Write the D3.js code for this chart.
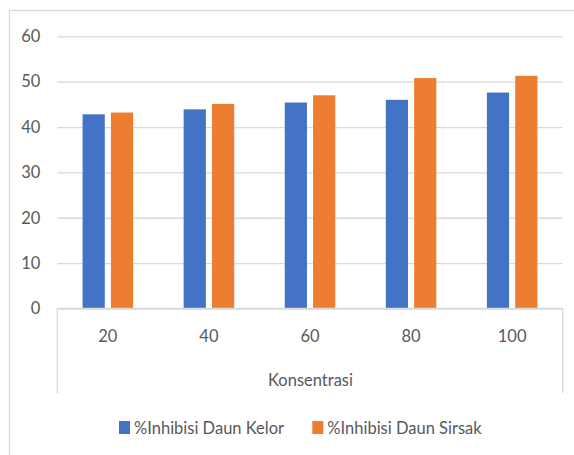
<!DOCTYPE html>
<html>
<head>
<meta charset="utf-8">
<script src="https://cdn.jsdelivr.net/npm/d3@7"></script>
<style>
  html, body { margin: 0; padding: 0; background: #fff; }
  svg { display: block; }
  text { font-family: Lato, "Open Sans", sans-serif; fill: #595959; }
</style>
</head>
<body>
<svg id="chart" width="574" height="455"></svg>
<script>
// Konsentrasi levels and inhibition percentages for both leaf extracts
const categories = ["20", "40", "60", "80", "100"];
const seriesNames = ["%Inhibisi Daun Kelor", "%Inhibisi Daun Sirsak"];
const kelor = [42.8, 43.9, 45.4, 46.0, 47.6];
const sirsak = [43.2, 45.1, 47.0, 50.8, 51.3];
const yTicks = [0, 10, 20, 30, 40, 50, 60];
const axisTitle = "Konsentrasi";
const colors = ["#4472C4", "#ED7D31"];

const values = [kelor, sirsak];
const rows = categories.map((c, i) => ({ cat: c, vals: values.map((s, j) => ({ key: seriesNames[j], v: s[i] })) }));

const svg = d3.select("#chart");
const plot = { left: 57.3, right: 562.7, top: 36.3, bottom: 308.5 };
const gridColor = "#d9d9d9";
const fontSize = 16.5;

// outer chart frame
svg.append("rect")
  .attr("x", 9.5).attr("y", 10.5).attr("width", 700).attr("height", 600)
  .attr("fill", "none").attr("stroke", gridColor).attr("stroke-width", 1.3);

const y = d3.scaleLinear().domain([0, 60]).range([plot.bottom, plot.top]);
const x0 = d3.scaleBand().domain(categories).range([plot.left, plot.right]).paddingInner(0).paddingOuter(0);
const groupW = x0.bandwidth() * 0.5;
const x1 = d3.scaleBand().domain(seriesNames).range([0, groupW]).paddingInner(0.216).paddingOuter(0);

// gridlines and value labels
const yAxis = d3.axisLeft(y).tickValues(yTicks).tickSize(-(plot.right - plot.left)).tickPadding(17);
const gy = svg.append("g").attr("transform", `translate(${plot.left},0)`).call(yAxis);
gy.select(".domain").remove();
gy.selectAll(".tick line").attr("stroke", gridColor).attr("stroke-width", 1.3);
gy.selectAll(".tick text").attr("font-size", fontSize).attr("fill", "#595959");

// bars
const groups = svg.append("g").selectAll("g").data(rows).join("g")
  .attr("transform", d => `translate(${x0(d.cat) + (x0.bandwidth() - groupW) / 2},0)`);
groups.selectAll("rect").data(d => d.vals).join("rect")
  .attr("x", d => x1(d.key))
  .attr("y", d => y(d.v))
  .attr("width", x1.bandwidth())
  .attr("height", d => y(0) - y(d.v))
  .attr("fill", (d, i) => colors[i]);

// category axis with its box
const axisBottomY = 393;
const xAxis = d3.axisBottom(x0).tickSize(0).tickPadding(22);
const gx = svg.append("g").attr("transform", `translate(0,${plot.bottom})`).call(xAxis);
gx.select(".domain").remove();
gx.selectAll(".tick text").attr("font-size", fontSize).attr("fill", "#595959");

svg.append("line").attr("x1", plot.left).attr("x2", plot.right)
  .attr("y1", plot.bottom).attr("y2", plot.bottom)
  .attr("stroke", gridColor).attr("stroke-width", 1.3);
[plot.left, plot.right].forEach(px => {
  svg.append("line").attr("x1", px).attr("x2", px)
    .attr("y1", plot.bottom).attr("y2", axisBottomY)
    .attr("stroke", gridColor).attr("stroke-width", 1.3);
});

svg.append("text")
  .attr("x", (plot.left + plot.right) / 2 + 0.5).attr("y", 386)
  .attr("text-anchor", "middle").attr("font-size", fontSize)
  .text(axisTitle);

// legend
const legendItems = [{ x: 119, name: seriesNames[0], c: colors[0] }, { x: 312.3, name: seriesNames[1], c: colors[1] }];
const lg = svg.append("g");
legendItems.forEach(it => {
  lg.append("rect").attr("x", it.x).attr("y", 421).attr("width", 11).attr("height", 13).attr("fill", it.c);
  lg.append("text").attr("x", it.x + 15).attr("y", 433.5).attr("font-size", fontSize).text(it.name);
});
</script>
</body>
</html>
